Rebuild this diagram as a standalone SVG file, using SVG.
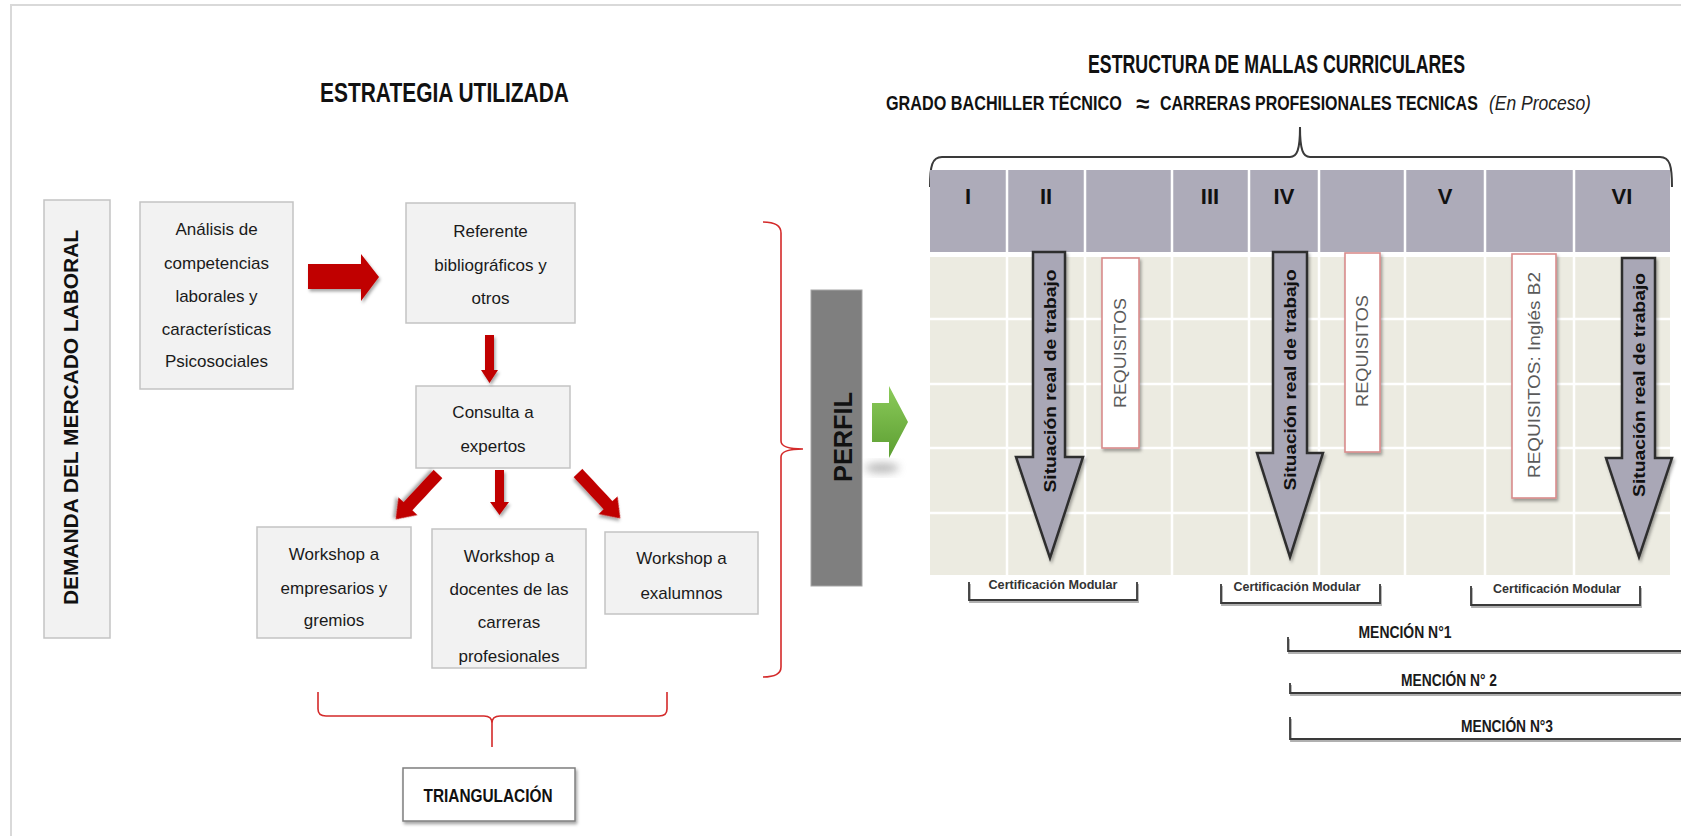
<svg xmlns="http://www.w3.org/2000/svg" width="1681" height="836" viewBox="0 0 1681 836">
<defs>
<style>
.box{fill:#f2f2f2;stroke:#c3c3c3;stroke-width:1.5}
.t{font-family:"Liberation Sans",Arial,sans-serif;font-size:17px;fill:#1a1a1a;text-anchor:middle}
.h{font-family:"Liberation Sans",Arial,sans-serif;font-weight:bold;fill:#111}
.red{fill:#c00000}
.brace{fill:none;stroke:#d42a2a;stroke-width:1.6}
.grid{stroke:#ffffff;stroke-width:2.5}
.garrow{fill:#a9a7b6;stroke:#2e2e2e;stroke-width:2.5;stroke-linejoin:miter}
.sit{font-family:"Liberation Sans",Arial,sans-serif;font-weight:bold;font-size:16px;fill:#111;text-anchor:middle}
.req{fill:#ffffff;stroke:#d98c8c;stroke-width:1.6}
.reqt{font-family:"Liberation Sans",Arial,sans-serif;font-size:16px;fill:#5a5a5a;text-anchor:middle}
.bk{fill:none;stroke:#3a3a3a;stroke-width:1.8}
.bks{fill:none;stroke:#b0b0b0;stroke-width:1.8}
.cm{font-family:"Liberation Sans",Arial,sans-serif;font-weight:bold;font-size:13.5px;fill:#333;text-anchor:middle}
.mn{font-family:"Liberation Sans",Arial,sans-serif;font-weight:bold;font-size:16px;fill:#1a1a1a;text-anchor:middle}
.rom{font-family:"Liberation Sans",Arial,sans-serif;font-weight:bold;font-size:22px;fill:#111;text-anchor:middle}
</style>
<filter id="sh" x="-30%" y="-30%" width="160%" height="160%"><feDropShadow dx="1.5" dy="2.5" stdDeviation="1.8" flood-color="#000" flood-opacity="0.35"/></filter>
<filter id="blur" x="-50%" y="-50%" width="200%" height="200%"><feGaussianBlur stdDeviation="4"/></filter>
<linearGradient id="green" x1="0" y1="0" x2="0" y2="1"><stop offset="0" stop-color="#8ccb5a"/><stop offset="1" stop-color="#5c9e32"/></linearGradient>
</defs>
<rect x="0" y="0" width="1681" height="836" fill="#ffffff"/>
<rect x="11" y="5" width="1700" height="860" fill="none" stroke="#d9d9d9" stroke-width="2"/>

<g id="title-left"><text class="h" x="444.5" y="102" font-size="27" text-anchor="middle" textLength="249" lengthAdjust="spacingAndGlyphs">ESTRATEGIA UTILIZADA</text></g>

<g id="demanda"><rect class="box" x="44" y="200" width="66" height="438"/>
<text class="h" font-size="21" text-anchor="middle" transform="translate(78,417.5) rotate(-90)" textLength="375" lengthAdjust="spacingAndGlyphs">DEMANDA DEL MERCADO LABORAL</text></g>

<g id="analisis"><rect class="box" x="140" y="202" width="153" height="187"/>
<text class="t" x="216.5" y="235">Análisis de</text>
<text class="t" x="216.5" y="269">competencias</text>
<text class="t" x="216.5" y="302">laborales y</text>
<text class="t" x="216.5" y="335">características</text>
<text class="t" x="216.5" y="367">Psicosociales</text></g>

<g id="referente"><rect class="box" x="406" y="203" width="169" height="120"/>
<text class="t" x="490.5" y="237">Referente</text>
<text class="t" x="490.5" y="271">bibliográficos y</text>
<text class="t" x="490.5" y="304">otros</text></g>

<g id="consulta"><rect class="box" x="416" y="386" width="154" height="82"/>
<text class="t" x="493" y="418">Consulta a</text>
<text class="t" x="493" y="452">expertos</text></g>

<g id="ws-empresarios"><rect class="box" x="257" y="527" width="154" height="111"/>
<text class="t" x="334" y="560">Workshop a</text>
<text class="t" x="334" y="594">empresarios y</text>
<text class="t" x="334" y="626">gremios</text></g>

<g id="ws-docentes"><rect class="box" x="432" y="529" width="154" height="139"/>
<text class="t" x="509" y="562">Workshop a</text>
<text class="t" x="509" y="595">docentes de las</text>
<text class="t" x="509" y="628">carreras</text>
<text class="t" x="509" y="662">profesionales</text></g>

<g id="ws-exalumnos"><rect class="box" x="605" y="532" width="153" height="82"/>
<text class="t" x="681.5" y="564">Workshop a</text>
<text class="t" x="681.5" y="599">exalumnos</text></g>

<g id="triangulacion"><rect x="403" y="768" width="172" height="53" fill="#ffffff" stroke="#7f7f7f" stroke-width="1.5" filter="url(#sh)"/>
<text class="h" x="488" y="802" font-size="18" text-anchor="middle" textLength="129" lengthAdjust="spacingAndGlyphs">TRIANGULACIÓN</text></g>

<g id="perfil"><rect x="811" y="290" width="51" height="296" fill="#7f7f7f" stroke="#a6a6a6" stroke-width="1"/>
<text class="h" font-size="26" text-anchor="middle" transform="translate(852,437) rotate(-90)" textLength="90" lengthAdjust="spacingAndGlyphs">PERFIL</text></g>

<g id="connectors">
<path class="red" filter="url(#sh)" d="M308,264 L361,264 L361,254 L379,277 L361,301 L361,289 L308,289 Z"/>
<path class="red" filter="url(#sh)" d="M485,335 L494,335 L494,370 L498,370 L489.5,383 L481,370 L485,370 Z"/>
<path class="red" filter="url(#sh)" transform="translate(438,474) rotate(133)" d="M0,-6 L44,-6 L44,-13 L62,0 L44,13 L44,6 L0,6 Z"/>
<path class="red" filter="url(#sh)" d="M495,470 L504,470 L504,502 L509,502 L499.5,515 L490,502 L495,502 Z"/>
<path class="red" filter="url(#sh)" transform="translate(578,473) rotate(47)" d="M0,-6 L44,-6 L44,-13 L62,0 L44,13 L44,6 L0,6 Z"/>
<path class="brace" d="M763,222 Q781,222 781,233 L781,441 Q781,449 803,449 Q781,449 781,457 L781,667 Q781,677 763,677"/>
<path class="brace" stroke="#e05555" d="M318,692 L318,709 Q318,716 326,716 L484,716 Q492,716 492,723 L492,747 M492,723 Q492,716 500,716 L659,716 Q667,716 667,709 L667,692"/>
<ellipse cx="882" cy="468" rx="17" ry="5" fill="#888" opacity="0.6" filter="url(#blur)"/>
<path fill="url(#green)" d="M872,403 L889,403 L889,386 L908,422 L889,458 L889,442 L872,442 Z"/>
</g>

<g id="title-right">
<text class="h" x="1088" y="73" font-size="25" textLength="377" lengthAdjust="spacingAndGlyphs">ESTRUCTURA DE MALLAS CURRICULARES</text>
<text class="h" font-size="21" transform="translate(886,110) scale(0.772,1)">GRADO BACHILLER TÉCNICO</text>
<text class="h" x="1142.5" y="112" font-size="24" text-anchor="middle">≈</text>
<text class="h" font-size="21" transform="translate(1160,110) scale(0.761,1)">CARRERAS PROFESIONALES TECNICAS</text>
<text font-family="'Liberation Sans',Arial,sans-serif" font-style="italic" font-size="20" fill="#222" transform="translate(1489,110) scale(0.874,1)">(En Proceso)</text>
</g>

<g id="top-brace"><path fill="none" stroke="#3a3a3a" stroke-width="2" d="M930,187 C930,166 932,157 942,157 L1290,157 C1297,157 1300,150 1300,127 C1300,150 1303,157 1310,157 L1660,157 C1670,157 1672,166 1672,187"/></g>

<g id="malla">
<rect x="930" y="170" width="740" height="82" fill="#adabb9"/>
<rect x="930" y="257" width="740" height="318" fill="#ecebe1"/>
<g class="grid">
<line x1="1007" y1="170" x2="1007" y2="575"/>
<line x1="1085" y1="170" x2="1085" y2="575"/>
<line x1="1172" y1="170" x2="1172" y2="575"/>
<line x1="1249" y1="170" x2="1249" y2="575"/>
<line x1="1319" y1="170" x2="1319" y2="575"/>
<line x1="1405" y1="170" x2="1405" y2="575"/>
<line x1="1485" y1="170" x2="1485" y2="575"/>
<line x1="1574" y1="170" x2="1574" y2="575"/>
<line x1="930" y1="319" x2="1670" y2="319"/>
<line x1="930" y1="384" x2="1670" y2="384"/>
<line x1="930" y1="448" x2="1670" y2="448"/>
<line x1="930" y1="513" x2="1670" y2="513"/>
</g>
<text class="rom" x="968" y="204">I</text>
<text class="rom" x="1046" y="204">II</text>
<text class="rom" x="1210" y="204">III</text>
<text class="rom" x="1284" y="204">IV</text>
<text class="rom" x="1445" y="204">V</text>
<text class="rom" x="1622" y="204">VI</text>
</g>

<g id="situacion-1"><path class="garrow" filter="url(#sh)" d="M1033,252 L1065,252 L1065,457 L1083,457 L1050,558 L1016,457 L1033,457 Z"/>
<text class="sit" transform="translate(1055.5,381) rotate(-90)" textLength="223" lengthAdjust="spacingAndGlyphs">Situación real de trabajo</text></g>
<g id="situacion-2"><path class="garrow" filter="url(#sh)" d="M1273,252 L1307,252 L1307,453 L1323,453 L1290,557 L1257,453 L1273,453 Z"/>
<text class="sit" transform="translate(1296,380) rotate(-90)" textLength="221" lengthAdjust="spacingAndGlyphs">Situación real de trabajo</text></g>
<g id="situacion-3"><path class="garrow" filter="url(#sh)" d="M1622,258 L1655,258 L1655,458 L1672,458 L1639,557 L1606,458 L1622,458 Z"/>
<text class="sit" transform="translate(1644.5,385) rotate(-90)" textLength="224" lengthAdjust="spacingAndGlyphs">Situación real de trabajo</text></g>

<g id="requisitos-1"><rect class="req" x="1102" y="258" width="37" height="190" filter="url(#sh)"/>
<text class="reqt" transform="translate(1126,353) rotate(-90)" textLength="110" lengthAdjust="spacingAndGlyphs">REQUISITOS</text></g>
<g id="requisitos-2"><rect class="req" x="1345" y="253" width="35" height="199" filter="url(#sh)"/>
<text class="reqt" transform="translate(1368,351) rotate(-90)" textLength="112" lengthAdjust="spacingAndGlyphs">REQUISITOS</text></g>
<g id="requisitos-3"><rect class="req" x="1512" y="254" width="44" height="244" filter="url(#sh)"/>
<text class="reqt" transform="translate(1540,375) rotate(-90)" textLength="206" lengthAdjust="spacingAndGlyphs">REQUISITOS: Inglés B2</text></g>

<g id="cert-1"><path class="bks" d="M970,584 L970,602 L1138,602 L1138,584"/><path class="bk" d="M969,582 L969,600 L1137,600 L1137,582"/>
<text class="cm" x="1053" y="589" textLength="129" lengthAdjust="spacingAndGlyphs">Certificación Modular</text></g>
<g id="cert-2"><path class="bks" d="M1222,586 L1222,605 L1381,605 L1381,586"/><path class="bk" d="M1221,584 L1221,603 L1380,603 L1380,584"/>
<text class="cm" x="1297" y="591" textLength="127" lengthAdjust="spacingAndGlyphs">Certificación Modular</text></g>
<g id="cert-3"><path class="bks" d="M1472,588 L1472,607 L1641,607 L1641,588"/><path class="bk" d="M1471,586 L1471,605 L1640,605 L1640,586"/>
<text class="cm" x="1557" y="593" textLength="128" lengthAdjust="spacingAndGlyphs">Certificación Modular</text></g>

<g id="mencion-1"><path class="bks" d="M1289,639 L1289,653 L1681,653"/><path class="bk" d="M1288,637 L1288,651 L1681,651"/>
<text class="mn" x="1405" y="638" textLength="93" lengthAdjust="spacingAndGlyphs">MENCIÓN N°1</text></g>
<g id="mencion-2"><path class="bks" d="M1291,685 L1291,695 L1681,695"/><path class="bk" d="M1290,683 L1290,693 L1681,693"/>
<text class="mn" x="1449" y="686" textLength="96" lengthAdjust="spacingAndGlyphs">MENCIÓN N° 2</text></g>
<g id="mencion-3"><path class="bks" d="M1291,719 L1291,741 L1681,741"/><path class="bk" d="M1290,717 L1290,739 L1681,739"/>
<text class="mn" x="1507" y="732" textLength="92" lengthAdjust="spacingAndGlyphs">MENCIÓN N°3</text></g>
</svg>
